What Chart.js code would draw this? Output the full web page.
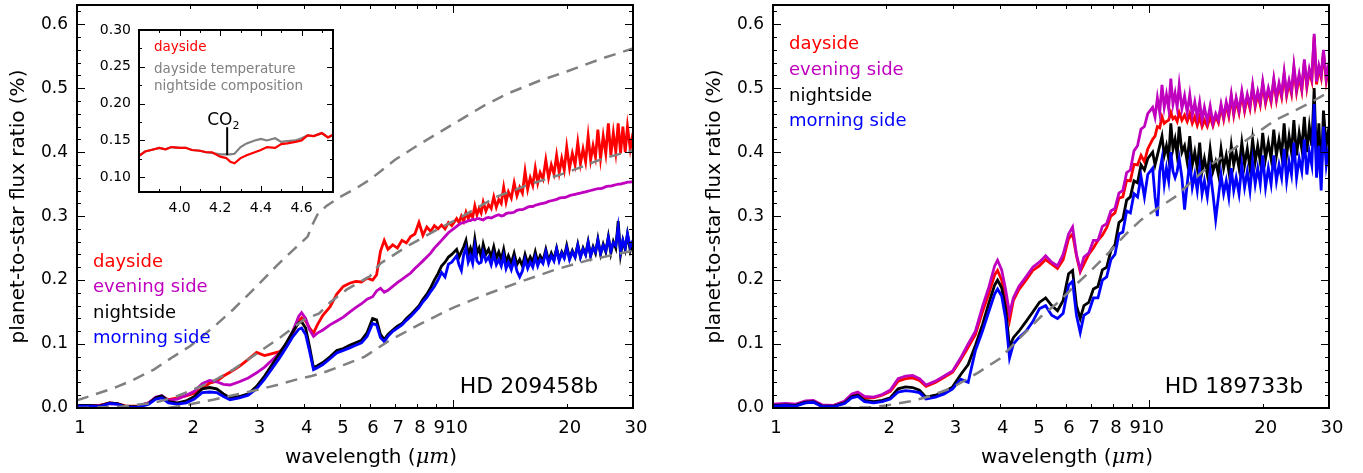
<!DOCTYPE html>
<html>
<head>
<meta charset="utf-8">
<script src="https://cdn.jsdelivr.net/npm/chart.js@4.4.1/dist/chart.umd.min.js"></script>
<style>
  html, body { margin: 0; padding: 0; background: #fff; }
  #wrap { position: relative; width: 1363px; height: 473px; overflow: hidden; }
  canvas { position: absolute; }
</style>
</head>
<body>
<div id="wrap">
  <canvas id="left" width="680" height="473" style="left:0;top:0;width:680px;height:473px"></canvas>
  <canvas id="right" width="683" height="473" style="left:680px;top:0;width:683px;height:473px"></canvas>
  <canvas id="inset" width="260" height="210" style="left:86px;top:15px;width:260px;height:210px"></canvas>
</div>
<script>
// wavelength grid (micron) shared by the four spectra of each planet
const wavelength = [
  1.00, 1.08, 1.15, 1.22, 1.28, 1.35, 1.45, 1.55, 1.62, 1.68,
  1.75, 1.85, 1.95, 2.05, 2.15, 2.25, 2.35, 2.45, 2.55, 2.70,
  2.85, 3.00, 3.15, 3.30, 3.45, 3.60, 3.75, 3.88, 3.95, 4.05,
  4.15, 4.25, 4.35, 4.50, 4.70, 4.90, 5.10, 5.30, 5.50, 5.70,
  5.90, 6.10, 6.25, 6.40, 6.55, 6.70, 6.90, 7.10, 7.30, 7.50,
  7.70, 7.90, 8.10, 8.30, 8.50, 8.70, 8.90, 9.10, 9.30, 9.50,
  9.70, 9.90,
  10.2, 10.35, 10.5, 10.65, 10.8, 10.95, 11.1, 11.25, 11.4, 11.55,
  11.7, 11.85, 12.0, 12.2, 12.4, 12.6, 12.8, 13.0, 13.2, 13.4,
  13.6, 13.8, 14.0, 14.25, 14.5, 14.75, 15.0, 15.25, 15.5, 15.75,
  16.0, 16.25, 16.5, 16.75, 17.0, 17.3, 17.6, 17.9, 18.2, 18.5,
  18.8, 19.1, 19.4, 19.7, 20.0, 20.35, 20.7, 21.05, 21.4, 21.75,
  22.1, 22.45, 22.8, 23.15, 23.5, 23.85, 24.2, 24.6, 25.0, 25.4,
  25.8, 26.2, 26.6, 27.0, 27.4, 27.8, 28.2, 28.6, 29.0, 29.5,
  30.0
];

// HD 209458b, planet-to-star flux ratio (%)
const dayside209 = [
  0.003, 0.004, 0.004, 0.008, 0.007, 0.003, 0.003, 0.008, 0.016, 0.018,
  0.013, 0.016, 0.019, 0.023, 0.030, 0.039, 0.042, 0.050, 0.056, 0.065,
  0.076, 0.087, 0.082, 0.085, 0.088, 0.098, 0.118, 0.136, 0.141, 0.136,
  0.125, 0.117, 0.130, 0.145, 0.158, 0.178, 0.190, 0.195, 0.198, 0.197,
  0.203, 0.200, 0.208, 0.245, 0.262, 0.248, 0.255, 0.250, 0.262, 0.258,
  0.268, 0.272, 0.290, 0.270, 0.283, 0.276, 0.285, 0.280, 0.286, 0.280,
  0.290, 0.285,
  0.296, 0.290, 0.300, 0.292, 0.306, 0.296, 0.304, 0.298, 0.316, 0.302,
  0.312, 0.305, 0.322, 0.308, 0.318, 0.312, 0.330, 0.314, 0.326, 0.320,
  0.345, 0.322, 0.338, 0.328, 0.352, 0.332, 0.345, 0.336, 0.370, 0.342,
  0.360, 0.348, 0.375, 0.352, 0.368, 0.358, 0.388, 0.360, 0.380, 0.366,
  0.395, 0.368, 0.390, 0.372, 0.408, 0.375, 0.398, 0.380, 0.415, 0.382,
  0.405, 0.385, 0.425, 0.388, 0.410, 0.392, 0.435, 0.390, 0.425, 0.398,
  0.445, 0.395, 0.430, 0.400, 0.445, 0.398, 0.440, 0.400, 0.440, 0.405,
  0.430
];
const evening209 = [
  0.003, 0.003, 0.004, 0.007, 0.006, 0.002, 0.003, 0.008, 0.017, 0.019,
  0.012, 0.014, 0.020, 0.026, 0.038, 0.043, 0.041, 0.037, 0.036, 0.041,
  0.047, 0.055, 0.064, 0.075, 0.086, 0.100, 0.121, 0.143, 0.149, 0.140,
  0.122, 0.112, 0.117, 0.122, 0.130, 0.136, 0.142, 0.150, 0.157, 0.163,
  0.170, 0.174, 0.183, 0.187, 0.181, 0.184, 0.190, 0.196, 0.201, 0.206,
  0.211, 0.218, 0.224, 0.230, 0.236, 0.242, 0.250, 0.256, 0.262, 0.268,
  0.274, 0.278,
  0.284, 0.287, 0.289, 0.290, 0.291, 0.293, 0.293, 0.295, 0.294, 0.296,
  0.296, 0.295, 0.294, 0.297, 0.298, 0.297, 0.299, 0.301, 0.302, 0.300,
  0.301, 0.304, 0.305, 0.305, 0.306, 0.309, 0.310, 0.310, 0.312, 0.314,
  0.315, 0.315, 0.317, 0.318, 0.319, 0.320, 0.321, 0.323, 0.324, 0.325,
  0.326, 0.328, 0.329, 0.329, 0.330, 0.332, 0.333, 0.334, 0.335, 0.336,
  0.337, 0.338, 0.339, 0.340, 0.341, 0.342, 0.343, 0.343, 0.344, 0.346,
  0.347, 0.347, 0.348, 0.349, 0.350, 0.350, 0.351, 0.352, 0.353, 0.353,
  0.354
];
const night209 = [
  0.004, 0.004, 0.003, 0.008, 0.007, 0.002, 0.002, 0.007, 0.016, 0.019,
  0.010, 0.008, 0.011, 0.018, 0.030, 0.032, 0.030, 0.022, 0.016, 0.018,
  0.022, 0.034, 0.050, 0.068, 0.085, 0.102, 0.120, 0.133, 0.135, 0.125,
  0.095, 0.063, 0.066, 0.071, 0.080, 0.090, 0.093, 0.098, 0.102, 0.106,
  0.118, 0.140, 0.138, 0.115, 0.107, 0.115, 0.122, 0.128, 0.132, 0.140,
  0.146, 0.153, 0.160, 0.170, 0.178, 0.188, 0.200, 0.210, 0.222, 0.228,
  0.236, 0.240,
  0.248, 0.236, 0.244, 0.252, 0.262, 0.240, 0.250, 0.238, 0.264, 0.242,
  0.250, 0.236, 0.256, 0.240, 0.248, 0.236, 0.252, 0.234, 0.244, 0.232,
  0.248, 0.228, 0.238, 0.226, 0.242, 0.224, 0.232, 0.222, 0.240, 0.226,
  0.236, 0.228, 0.244, 0.228, 0.238, 0.230, 0.248, 0.230, 0.242, 0.232,
  0.250, 0.232, 0.244, 0.236, 0.254, 0.234, 0.246, 0.236, 0.256, 0.236,
  0.250, 0.240, 0.260, 0.238, 0.252, 0.242, 0.264, 0.240, 0.256, 0.244,
  0.268, 0.242, 0.260, 0.250, 0.292, 0.240, 0.262, 0.248, 0.272, 0.246,
  0.260
];
const morning209 = [
  0.003, 0.003, 0.002, 0.007, 0.006, 0.001, 0.001, 0.006, 0.014, 0.016,
  0.008, 0.006, 0.008, 0.014, 0.024, 0.025, 0.024, 0.018, 0.013, 0.016,
  0.020, 0.030, 0.045, 0.062, 0.078, 0.095, 0.112, 0.123, 0.125, 0.115,
  0.088, 0.060, 0.063, 0.068, 0.077, 0.086, 0.090, 0.094, 0.098, 0.102,
  0.112, 0.132, 0.130, 0.110, 0.104, 0.112, 0.120, 0.125, 0.130, 0.137,
  0.143, 0.150, 0.157, 0.166, 0.173, 0.182, 0.190, 0.200, 0.212, 0.205,
  0.225, 0.228,
  0.238, 0.224, 0.215, 0.240, 0.250, 0.228, 0.238, 0.226, 0.252, 0.230,
  0.226, 0.228, 0.244, 0.230, 0.236, 0.224, 0.240, 0.224, 0.232, 0.222,
  0.238, 0.218, 0.228, 0.216, 0.232, 0.214, 0.205, 0.214, 0.232, 0.218,
  0.228, 0.220, 0.236, 0.222, 0.232, 0.226, 0.244, 0.226, 0.238, 0.230,
  0.248, 0.230, 0.242, 0.234, 0.250, 0.232, 0.244, 0.236, 0.254, 0.236,
  0.248, 0.240, 0.258, 0.238, 0.250, 0.244, 0.262, 0.242, 0.254, 0.246,
  0.266, 0.246, 0.258, 0.254, 0.282, 0.244, 0.262, 0.250, 0.272, 0.252,
  0.262
];

// HD 209458b gray dashed model curves
const hotWl209 = [1.0, 1.1, 1.25, 1.4, 1.6, 1.8, 2.0, 2.3, 2.6, 3.0, 3.4, 3.8, 4.0, 4.1, 4.2,
  4.35, 4.6, 5.0, 5.5, 6.0, 7.0, 8.0, 9.0, 10, 12, 14, 17, 20, 25, 30];
const hotModel209 = [0.012, 0.020, 0.031, 0.043, 0.060, 0.080, 0.097, 0.126, 0.154, 0.190, 0.223, 0.250, 0.262, 0.268, 0.284,
  0.302, 0.316, 0.330, 0.343, 0.357, 0.388, 0.410, 0.428, 0.444, 0.472, 0.492, 0.512, 0.526, 0.547, 0.562];
const midWl209 = [1.0, 1.3, 1.6, 1.8, 2.0, 2.3, 2.6, 3.0, 3.5, 4.0, 4.2, 4.4,
  4.7, 5.2, 6.0, 6.4, 7.5, 9.0, 10.3, 13, 16, 20, 25, 30];
const midModel209 = [0.000, 0.002, 0.008, 0.016, 0.027, 0.042, 0.060, 0.085, 0.112, 0.138, 0.143, 0.148,
  0.165, 0.185, 0.206, 0.226, 0.252, 0.278, 0.296, 0.330, 0.350, 0.368, 0.390, 0.403];
const coolWl209 = [1.75, 2.0, 2.3, 2.6, 3.0, 3.4, 3.8, 4.2, 4.6, 5.1, 5.8, 6.7, 8.2, 10, 12.4, 15, 18.6, 22.8, 30];
const coolModel209 = [0.000, 0.006, 0.013, 0.020, 0.028, 0.036, 0.044, 0.050, 0.057, 0.067, 0.080, 0.104,
  0.132, 0.157, 0.179, 0.197, 0.216, 0.231, 0.246];

// HD 189733b, planet-to-star flux ratio (%)
const dayside189 = [
  0.005, 0.006, 0.005, 0.010, 0.011, 0.004, 0.004, 0.010, 0.020, 0.023,
  0.016, 0.016, 0.020, 0.026, 0.042, 0.046, 0.047, 0.043, 0.034, 0.040,
  0.048, 0.056, 0.075, 0.095, 0.115, 0.150, 0.180, 0.208, 0.215, 0.200,
  0.170, 0.137, 0.168, 0.185, 0.200, 0.215, 0.222, 0.232, 0.225, 0.218,
  0.232, 0.265, 0.272, 0.238, 0.213, 0.225, 0.240, 0.250, 0.262, 0.270,
  0.282, 0.300, 0.305, 0.328, 0.330, 0.356, 0.355, 0.381, 0.380, 0.395,
  0.385, 0.405,
  0.420, 0.425, 0.440, 0.438, 0.455, 0.445, 0.448, 0.450, 0.462, 0.452,
  0.455, 0.448, 0.462, 0.450, 0.458, 0.448, 0.460, 0.445, 0.455, 0.442,
  0.455, 0.440, 0.450, 0.440, 0.455, 0.441, 0.456, 0.446, 0.471, 0.451,
  0.474, 0.456, 0.486, 0.458, 0.481, 0.461, 0.491, 0.464, 0.486, 0.468,
  0.501, 0.471, 0.491, 0.474, 0.506, 0.476, 0.496, 0.478, 0.511, 0.481,
  0.504, 0.486, 0.521, 0.488, 0.508, 0.491, 0.531, 0.494, 0.518, 0.496,
  0.541, 0.501, 0.526, 0.511, 0.581, 0.506, 0.531, 0.516, 0.556, 0.511,
  0.536
];
const evening189 = [
  0.006, 0.007, 0.006, 0.011, 0.012, 0.005, 0.004, 0.011, 0.022, 0.025,
  0.018, 0.017, 0.021, 0.028, 0.046, 0.050, 0.051, 0.046, 0.036, 0.042,
  0.050, 0.058, 0.078, 0.100, 0.120, 0.158, 0.190, 0.222, 0.231, 0.216,
  0.185, 0.148, 0.172, 0.190, 0.205, 0.220, 0.228, 0.238, 0.228, 0.222,
  0.240, 0.272, 0.283, 0.240, 0.216, 0.236, 0.242, 0.262, 0.262, 0.284,
  0.288, 0.308, 0.312, 0.336, 0.340, 0.368, 0.372, 0.402, 0.410, 0.436,
  0.440, 0.460,
  0.470, 0.455, 0.485, 0.462, 0.505, 0.470, 0.490, 0.468, 0.515, 0.475,
  0.492, 0.470, 0.505, 0.468, 0.488, 0.462, 0.490, 0.458, 0.478, 0.455,
  0.478, 0.450, 0.470, 0.448, 0.472, 0.445, 0.460, 0.450, 0.475, 0.455,
  0.478, 0.460, 0.490, 0.462, 0.485, 0.465, 0.495, 0.468, 0.490, 0.472,
  0.505, 0.475, 0.495, 0.478, 0.510, 0.480, 0.500, 0.482, 0.515, 0.485,
  0.508, 0.490, 0.525, 0.492, 0.512, 0.495, 0.535, 0.498, 0.522, 0.500,
  0.545, 0.505, 0.530, 0.515, 0.585, 0.510, 0.535, 0.520, 0.560, 0.515,
  0.540
];
const night189 = [
  0.004, 0.005, 0.004, 0.009, 0.010, 0.003, 0.003, 0.008, 0.018, 0.020,
  0.012, 0.010, 0.012, 0.016, 0.030, 0.033, 0.032, 0.028, 0.017, 0.020,
  0.025, 0.033, 0.052, 0.068, 0.098, 0.130, 0.165, 0.192, 0.200, 0.188,
  0.155, 0.095, 0.110, 0.120, 0.135, 0.150, 0.165, 0.172, 0.160, 0.152,
  0.168, 0.210, 0.215, 0.160, 0.140, 0.160, 0.165, 0.186, 0.190, 0.216,
  0.220, 0.246, 0.255, 0.290, 0.295, 0.325, 0.330, 0.355, 0.352, 0.380,
  0.372, 0.390,
  0.400, 0.380, 0.395, 0.410, 0.425, 0.395, 0.410, 0.390, 0.445, 0.405,
  0.420, 0.395, 0.440, 0.400, 0.410, 0.385, 0.425, 0.380, 0.400, 0.375,
  0.415, 0.370, 0.390, 0.365, 0.405, 0.370, 0.385, 0.365, 0.405, 0.375,
  0.395, 0.370, 0.410, 0.380, 0.400, 0.375, 0.415, 0.380, 0.405, 0.375,
  0.420, 0.385, 0.410, 0.385, 0.430, 0.390, 0.415, 0.390, 0.435, 0.395,
  0.420, 0.395, 0.445, 0.395, 0.425, 0.400, 0.450, 0.395, 0.430, 0.405,
  0.455, 0.400, 0.440, 0.410, 0.500, 0.380, 0.445, 0.360, 0.465, 0.410,
  0.440
];
const morning189 = [
  0.003, 0.004, 0.003, 0.008, 0.009, 0.002, 0.002, 0.007, 0.016, 0.018,
  0.010, 0.008, 0.010, 0.014, 0.025, 0.027, 0.026, 0.024, 0.014, 0.017,
  0.022, 0.030, 0.045, 0.040, 0.090, 0.120, 0.152, 0.178, 0.186, 0.175,
  0.140, 0.078, 0.100, 0.110, 0.120, 0.135, 0.155, 0.160, 0.145, 0.140,
  0.148, 0.192, 0.198, 0.145, 0.118, 0.145, 0.150, 0.172, 0.172, 0.200,
  0.205, 0.232, 0.240, 0.272, 0.275, 0.308, 0.305, 0.335, 0.330, 0.362,
  0.330, 0.365,
  0.375, 0.330, 0.300, 0.370, 0.390, 0.350, 0.375, 0.355, 0.400, 0.370,
  0.360, 0.370, 0.390, 0.360, 0.310, 0.350, 0.385, 0.345, 0.365, 0.340,
  0.375, 0.335, 0.355, 0.330, 0.370, 0.335, 0.295, 0.330, 0.365, 0.335,
  0.355, 0.330, 0.375, 0.340, 0.360, 0.335, 0.380, 0.345, 0.370, 0.340,
  0.385, 0.350, 0.375, 0.350, 0.395, 0.345, 0.375, 0.350, 0.395, 0.355,
  0.380, 0.360, 0.405, 0.355, 0.385, 0.365, 0.415, 0.360, 0.390, 0.370,
  0.420, 0.365, 0.400, 0.380, 0.475, 0.360, 0.410, 0.340, 0.440, 0.380,
  0.410
];
const modelWl189 = [1.5, 1.8, 2.0, 2.3, 2.6, 3.0, 3.5, 4.0, 4.5, 5.15, 5.8, 6.3, 7.0, 7.8,
  8.6, 9.5, 10.5, 11.7, 13, 14.3, 16, 17.6, 19.5, 21.6, 24, 26.5, 30];
const model189 = [0.000, 0.001, 0.004, 0.010, 0.018, 0.032, 0.055, 0.077, 0.108, 0.143, 0.168, 0.190, 0.215, 0.243,
  0.270, 0.294, 0.312, 0.330, 0.355, 0.377, 0.397, 0.414, 0.432, 0.450, 0.463, 0.476, 0.494];

// inset: CO2 band of HD 209458b
const insetWl = [3.80, 3.83, 3.86, 3.90, 3.93, 3.96, 4.00, 4.03, 4.06, 4.10, 4.13, 4.16, 4.20, 4.23, 4.25, 4.27,
  4.30, 4.33, 4.37, 4.40, 4.43, 4.47, 4.50, 4.53, 4.57, 4.60, 4.63, 4.66, 4.70, 4.73, 4.77];
const insetDayside = [0.129, 0.135, 0.137, 0.140, 0.138, 0.141, 0.140, 0.140, 0.137, 0.136, 0.134, 0.134, 0.128, 0.126, 0.121, 0.119,
  0.126, 0.130, 0.134, 0.137, 0.141, 0.140, 0.145, 0.146, 0.148, 0.150, 0.157, 0.156, 0.160, 0.154, 0.160];
const insetMixed = [0.129, 0.135, 0.137, 0.140, 0.138, 0.141, 0.140, 0.140, 0.137, 0.136, 0.134, 0.133, 0.131, 0.131, 0.131, 0.132,
  0.141, 0.146, 0.150, 0.152, 0.150, 0.153, 0.148, 0.149, 0.150, 0.153, 0.157, 0.156, 0.160, 0.154, 0.160];
const co2Wl = [4.234, 4.234];
const co2Flux = [0.130, 0.168];

// ticks
const xTickValues = [1, 2, 3, 4, 5, 6, 7, 8, 9, 10, 20, 30];
const xMajor = [1, 10];
const xMinor = [2, 3, 4, 5, 6, 7, 8, 9, 20, 30];
const yTickValues = [0, 0.1, 0.2, 0.3, 0.4, 0.5, 0.6];
const yMinor = [0.02, 0.04, 0.06, 0.08, 0.12, 0.14, 0.16, 0.18, 0.22, 0.24, 0.26, 0.28, 0.32, 0.34, 0.36, 0.38,
  0.42, 0.44, 0.46, 0.48, 0.52, 0.54, 0.56, 0.58, 0.62];
const insetXTicks = [4.0, 4.2, 4.4, 4.6];
const insetXMinor = [3.9, 4.1, 4.3, 4.5, 4.7];
const insetYTicks = [0.10, 0.15, 0.20, 0.25, 0.30];
const insetYMinor = [0.125, 0.175, 0.225, 0.275];

const RED = '#ff0000', MAGENTA = '#bf00bf', BLUE = '#0000ff', GRAY = '#808080';
const SANS = 'DejaVu Sans';

const pts = (xs, ys) => xs.map((w, i) => ({x: w, y: ys[i]}));
function line(label, xs, ys, color, order, width) {
  return {label, data: pts(xs, ys), borderColor: color, borderWidth: width || 2.8, pointRadius: 0, order};
}
function dashed(label, xs, ys) {
  return {label, data: pts(xs, ys), borderColor: GRAY, borderWidth: 2.5, borderDash: [12, 8], pointRadius: 0, order: 1};
}

// frame, inward ticks, white background, texts
const decor = {
  id: 'decor',
  beforeDatasetsDraw(chart) {
    const a = chart.chartArea, ctx = chart.ctx;
    ctx.save();
    ctx.fillStyle = '#fff';
    ctx.fillRect(a.left, a.top, a.width, a.height);
    ctx.restore();
  },
  afterDatasetsDraw(chart, args, o) {
    const {ctx, chartArea: a, scales: {x, y}} = chart;
    ctx.save();
    ctx.strokeStyle = '#000';
    ctx.lineWidth = 1;
    ctx.beginPath();
    const tx = (vals, len) => vals.forEach(v => {
      const p = Math.round(x.getPixelForValue(v)) + 0.5;
      ctx.moveTo(p, a.bottom); ctx.lineTo(p, a.bottom - len);
      ctx.moveTo(p, a.top); ctx.lineTo(p, a.top + len);
    });
    const ty = (vals, len) => vals.forEach(v => {
      const p = Math.round(y.getPixelForValue(v)) + 0.5;
      ctx.moveTo(a.left, p); ctx.lineTo(a.left + len, p);
      ctx.moveTo(a.right, p); ctx.lineTo(a.right - len, p);
    });
    tx(o.xMajor, o.major); tx(o.xMinor, o.minor);
    ty(o.yMajor, o.major); ty(o.yMinor, o.minor);
    ctx.stroke();
    ctx.lineWidth = o.frame;
    ctx.strokeRect(a.left, a.top, a.width, a.height);

    ctx.textBaseline = 'middle';
    (o.texts || []).forEach(t => {
      ctx.font = t.font;
      ctx.fillStyle = t.color || '#000';
      ctx.textAlign = t.align || 'left';
      ctx.fillText(t.text, t.x, t.y);
    });

    if (o.titles) {
      ctx.fillStyle = '#000';
      ctx.font = '20px ' + SANS;
      ctx.save();
      ctx.translate(a.left - 58, (a.top + a.bottom) / 2);
      ctx.rotate(-Math.PI / 2);
      ctx.textAlign = 'center';
      ctx.fillText('planet-to-star flux ratio (%)', 0, 0);
      ctx.restore();
      const p1 = 'wavelength (', p2 = '\u03bcm', p3 = ')';
      const f1 = '20px ' + SANS, f2 = 'italic 21px "DejaVu Serif"';
      ctx.font = f1; const w1 = ctx.measureText(p1).width, w3 = ctx.measureText(p3).width;
      ctx.font = f2; const w2 = ctx.measureText(p2).width;
      let cx = (a.left + a.right) / 2 + 16 - (w1 + w2 + w3) / 2;
      const ty0 = 458;
      ctx.textAlign = 'left';
      ctx.font = f1; ctx.fillText(p1, cx, ty0); cx += w1;
      ctx.font = f2; ctx.fillText(p2, cx, ty0); cx += w2;
      ctx.font = f1; ctx.fillText(p3, cx, ty0);
    }

    if (o.co2) {
      const px = x.getPixelForValue(co2Wl[1]);
      const py = y.getPixelForValue(co2Flux[1]);
      ctx.fillStyle = '#000';
      ctx.textAlign = 'left';
      ctx.textBaseline = 'alphabetic';
      ctx.font = '17px ' + SANS;
      const wCO = ctx.measureText('CO').width;
      const x0 = px - 20;
      ctx.fillText('CO', x0, py - 2);
      ctx.font = '11px ' + SANS;
      ctx.fillText('2', x0 + wCO, py + 2);
    }
    ctx.restore();
  }
};

function panelOptions(yWidth, padRight, decorOpts) {
  return {
    responsive: false,
    animation: false,
    devicePixelRatio: 1,
    layout: {padding: {left: 0, right: padRight, top: 5, bottom: 0}},
    plugins: {legend: {display: false}, tooltip: {enabled: false}, decor: decorOpts},
    scales: {
      x: {
        type: 'logarithmic', min: 1, max: 30,
        grid: {display: false, drawTicks: false}, border: {display: false},
        afterBuildTicks: s => { s.ticks = xTickValues.map(v => ({value: v})); },
        afterFit: s => { s.height = 65; s.paddingLeft = 0; s.paddingRight = 0; },
        ticks: {autoSkip: false, maxRotation: 0, minRotation: 0, padding: 10, labelOffset: 3, color: '#000',
          font: {family: SANS, size: 18}, callback: v => String(v)}
      },
      y: {
        type: 'linear', min: 0, max: 0.63,
        grid: {display: false, drawTicks: false}, border: {display: false},
        afterBuildTicks: s => { s.ticks = yTickValues.map(v => ({value: v})); },
        afterFit: s => { s.width = yWidth; s.paddingTop = 0; s.paddingBottom = 0; },
        ticks: {padding: 9, color: '#000', font: {family: SANS, size: 17}, callback: v => v.toFixed(1)}
      }
    }
  };
}

const legendFont = '18px ' + SANS;
const hdFont = '22px ' + SANS;

new Chart(document.getElementById('left'), {
  type: 'line',
  data: {datasets: [
    line('dayside', wavelength, dayside209, RED, 6),
    line('evening side', wavelength, evening209, MAGENTA, 5),
    line('nightside', wavelength, night209, '#000000', 4),
    line('morning side', wavelength, morning209, BLUE, 3),
    dashed('hot model', hotWl209, hotModel209),
    dashed('dayside model', midWl209, midModel209),
    dashed('cool model', coolWl209, coolModel209)
  ]},
  options: panelOptions(77, 47, {
    xMajor, xMinor, yMajor: yTickValues, yMinor, major: 8, minor: 4, frame: 2, titles: true,
    texts: [
      {text: 'dayside', x: 93, y: 262, color: RED, font: legendFont},
      {text: 'evening side', x: 93, y: 287, color: MAGENTA, font: legendFont},
      {text: 'nightside', x: 93, y: 313, color: '#000', font: legendFont},
      {text: 'morning side', x: 93, y: 338, color: BLUE, font: legendFont},
      {text: 'HD 209458b', x: 529, y: 387, align: 'center', font: hdFont}
    ]
  }),
  plugins: [decor]
});

new Chart(document.getElementById('right'), {
  type: 'line',
  data: {datasets: [
    line('dayside', wavelength, dayside189, RED, 6),
    line('evening side', wavelength, evening189, MAGENTA, 5),
    line('nightside', wavelength, night189, '#000000', 4),
    line('morning side', wavelength, morning189, BLUE, 3),
    dashed('model', modelWl189, model189)
  ]},
  options: panelOptions(93, 34, {
    xMajor, xMinor, yMajor: yTickValues, yMinor, major: 8, minor: 4, frame: 2, titles: true,
    texts: [
      {text: 'dayside', x: 109, y: 44, color: RED, font: legendFont},
      {text: 'evening side', x: 109, y: 70, color: MAGENTA, font: legendFont},
      {text: 'nightside', x: 109, y: 96, color: '#000', font: legendFont},
      {text: 'morning side', x: 109, y: 121, color: BLUE, font: legendFont},
      {text: 'HD 189733b', x: 554, y: 387, align: 'center', font: hdFont}
    ]
  }),
  plugins: [decor]
});

new Chart(document.getElementById('inset'), {
  type: 'line',
  data: {datasets: [
    line('dayside', insetWl, insetDayside, RED, 2, 2.2),
    line('dayside temperature, nightside composition', insetWl, insetMixed, GRAY, 3, 2.2),
    line('CO2', co2Wl, co2Flux, '#000000', 1, 2)
  ]},
  options: {
    responsive: false,
    animation: false,
    devicePixelRatio: 1,
    layout: {padding: {left: 0, right: 13, top: 15, bottom: 0}},
    plugins: {legend: {display: false}, tooltip: {enabled: false}, decor: {
      xMajor: insetXTicks, xMinor: insetXMinor, yMajor: insetYTicks, yMinor: insetYMinor,
      major: 6, minor: 3, frame: 2, co2: true,
      texts: [
        {text: 'dayside', x: 68, y: 32, color: RED, font: '13.5px ' + SANS},
        {text: 'dayside temperature', x: 68, y: 54, color: GRAY, font: '13.5px ' + SANS},
        {text: 'nightside composition', x: 68, y: 71, color: GRAY, font: '13.5px ' + SANS}
      ]
    }},
    scales: {
      x: {
        type: 'linear', min: 3.8, max: 4.755,
        grid: {display: false, drawTicks: false}, border: {display: false},
        afterBuildTicks: s => { s.ticks = insetXTicks.map(v => ({value: v})); },
        afterFit: s => { s.height = 33; s.paddingLeft = 0; s.paddingRight = 0; },
        ticks: {autoSkip: false, maxRotation: 0, minRotation: 0, padding: 8, color: '#000',
          font: {family: SANS, size: 14}, callback: v => v.toFixed(1)}
      },
      y: {
        type: 'linear', min: 0.08, max: 0.30,
        grid: {display: false, drawTicks: false}, border: {display: false},
        afterBuildTicks: s => { s.ticks = insetYTicks.map(v => ({value: v})); },
        afterFit: s => { s.width = 53; s.paddingTop = 0; s.paddingBottom = 0; },
        ticks: {padding: 8, color: '#000', font: {family: SANS, size: 14}, callback: v => v.toFixed(2)}
      }
    }
  },
  plugins: [decor]
});
</script>
</body>
</html>
